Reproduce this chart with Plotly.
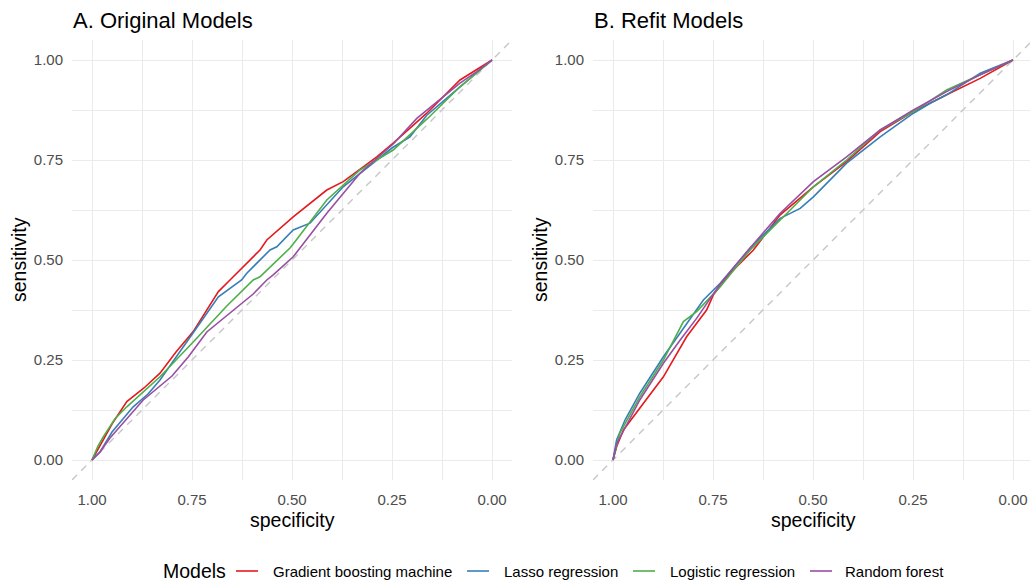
import plotly.graph_objects as go

# ---------------- data ----------------
models = ["Gradient boosting machine", "Lasso regression", "Logistic regression", "Random forest"]
colors = ["#E41A1C", "#377EB8", "#4DAF4A", "#984EA3"]
legend_title = "Models"

# Panel A: Original models
orig_gbm_spec = [1, 0.98, 0.95, 0.913, 0.87, 0.83, 0.79, 0.747, 0.684, 0.655, 0.626, 0.58, 0.563, 0.497, 0.413, 0.372, 0.288, 0.247, 0.163, 0.08, 0.04, 0]
orig_gbm_sens = [0, 0.035, 0.09, 0.146, 0.18, 0.217, 0.27, 0.321, 0.421, 0.45, 0.479, 0.525, 0.55, 0.608, 0.675, 0.696, 0.758, 0.792, 0.867, 0.95, 0.975, 1]

orig_lasso_spec = [1, 0.98, 0.95, 0.897, 0.86, 0.83, 0.747, 0.684, 0.626, 0.613, 0.555, 0.538, 0.497, 0.455, 0.372, 0.288, 0.25, 0.205, 0.163, 0.08, 0]
orig_lasso_sens = [0, 0.02, 0.07, 0.133, 0.165, 0.2, 0.318, 0.408, 0.45, 0.467, 0.525, 0.533, 0.575, 0.592, 0.683, 0.75, 0.78, 0.808, 0.862, 0.933, 1]

orig_logit_spec = [1, 0.985, 0.972, 0.942, 0.913, 0.83, 0.747, 0.663, 0.597, 0.58, 0.505, 0.497, 0.413, 0.33, 0.247, 0.163, 0.08, 0]
orig_logit_sens = [0, 0.035, 0.058, 0.104, 0.133, 0.208, 0.295, 0.385, 0.45, 0.458, 0.53, 0.54, 0.65, 0.725, 0.775, 0.852, 0.933, 1]

orig_rf_spec = [1, 0.98, 0.955, 0.872, 0.8, 0.759, 0.713, 0.663, 0.597, 0.563, 0.547, 0.497, 0.413, 0.33, 0.247, 0.188, 0.08, 0.038, 0]
orig_rf_sens = [0, 0.02, 0.055, 0.15, 0.21, 0.258, 0.32, 0.36, 0.415, 0.45, 0.463, 0.508, 0.617, 0.717, 0.79, 0.854, 0.942, 0.971, 1]

# Panel B: Refit models
refit_gbm_spec = [1, 0.991, 0.974, 0.937, 0.874, 0.816, 0.766, 0.749, 0.707, 0.649, 0.582, 0.499, 0.416, 0.332, 0.249, 0.166, 0.082, 0]
refit_gbm_sens = [0, 0.033, 0.075, 0.125, 0.208, 0.308, 0.375, 0.413, 0.467, 0.525, 0.613, 0.683, 0.746, 0.821, 0.871, 0.913, 0.954, 1]

refit_lasso_spec = [1, 0.991, 0.97, 0.933, 0.874, 0.832, 0.774, 0.732, 0.657, 0.582, 0.532, 0.499, 0.416, 0.332, 0.249, 0.207, 0.166, 0.082, 0]
refit_lasso_sens = [0, 0.05, 0.1, 0.167, 0.258, 0.317, 0.4, 0.442, 0.53, 0.604, 0.629, 0.658, 0.742, 0.808, 0.867, 0.892, 0.913, 0.967, 1]

refit_logit_spec = [1, 0.983, 0.933, 0.874, 0.824, 0.791, 0.732, 0.657, 0.582, 0.499, 0.416, 0.332, 0.249, 0.166, 0.082, 0]
refit_logit_sens = [0, 0.067, 0.158, 0.25, 0.346, 0.371, 0.433, 0.525, 0.6, 0.683, 0.75, 0.825, 0.871, 0.925, 0.963, 1]

refit_rf_spec = [1, 0.991, 0.933, 0.874, 0.832, 0.791, 0.732, 0.666, 0.582, 0.499, 0.416, 0.374, 0.332, 0.249, 0.166, 0.082, 0]
refit_rf_sens = [0, 0.04, 0.15, 0.242, 0.3, 0.354, 0.44, 0.52, 0.617, 0.696, 0.758, 0.792, 0.825, 0.875, 0.921, 0.963, 1]

diag_spec = [1.05, -0.05]
diag_sens = [-0.05, 1.05]

tick_vals = [0, 0.25, 0.5, 0.75, 1]
tick_text = ["0.00", "0.25", "0.50", "0.75", "1.00"]
minor_vals = [0.125, 0.375, 0.625, 0.875]

panel_titles = ["A. Original Models", "B. Refit Models"]

# ---------------- figure ----------------
W, H = 1030, 584
FONT = "Arial, Liberation Sans, sans-serif"

def px_x(p):
    return p / W

def px_y(p):
    return 1 - p / H

fig = go.Figure()

panels = [
    ("x", "y", [(orig_gbm_spec, orig_gbm_sens), (orig_lasso_spec, orig_lasso_sens),
                (orig_logit_spec, orig_logit_sens), (orig_rf_spec, orig_rf_sens)]),
    ("x2", "y2", [(refit_gbm_spec, refit_gbm_sens), (refit_lasso_spec, refit_lasso_sens),
                  (refit_logit_spec, refit_logit_sens), (refit_rf_spec, refit_rf_sens)]),
]

for pi, (xa, ya, series) in enumerate(panels):
    fig.add_trace(go.Scatter(x=diag_spec, y=diag_sens, mode="lines", xaxis=xa, yaxis=ya,
                             line=dict(color="#C6C6C6", width=1.4, dash="7px,6px"),
                             showlegend=False, hoverinfo="skip"))
    for mi, (sx, sy) in enumerate(series):
        fig.add_trace(go.Scatter(x=sx, y=sy, mode="lines", xaxis=xa, yaxis=ya,
                                 name=models[mi], legendgroup=models[mi],
                                 showlegend=False,
                                 line=dict(color=colors[mi], width=1.6)))

axis_common = dict(
    tickmode="array", tickvals=tick_vals, ticktext=tick_text,
    showgrid=True, gridcolor="#EBEBEB", gridwidth=1.1,
    zeroline=False, showline=False, ticks="",
    tickfont=dict(family=FONT, size=15, color="#4D4D4D"),
    minor=dict(tickmode="array", tickvals=minor_vals, showgrid=True,
               gridcolor="#EBEBEB", gridwidth=0.6, ticks=""),
    automargin=False, fixedrange=True,
)

ydom = [px_y(480), px_y(40)]
fig.update_layout(
    width=W, height=H,
    margin=dict(l=0, r=0, t=0, b=0),
    paper_bgcolor="white", plot_bgcolor="white",
    font=dict(family=FONT, color="black"),
    xaxis=dict(domain=[px_x(72), px_x(512)], range=[1.05, -0.05], anchor="y",
               ticklabelstandoff=9, **axis_common),
    yaxis=dict(domain=ydom, range=[-0.05, 1.05], anchor="x",
               ticklabelstandoff=8, **axis_common),
    xaxis2=dict(domain=[px_x(593), 1.0], range=[1.05, -0.0425], anchor="y2",
                ticklabelstandoff=9, **axis_common),
    yaxis2=dict(domain=ydom, range=[-0.05, 1.05], anchor="x2",
                ticklabelstandoff=8, **axis_common),
    showlegend=False,
)

annotations = []
shapes = []
# panel titles
for txt, xl in zip(panel_titles, [71, 592]):
    annotations.append(dict(text=txt, x=px_x(xl), y=px_y(20), xref="paper", yref="paper",
                            xanchor="left", yanchor="middle", showarrow=False,
                            font=dict(family=FONT, size=22, color="black")))
# axis titles
for xc in [292, 813]:
    annotations.append(dict(text="specificity", x=px_x(xc), y=px_y(520), xref="paper", yref="paper",
                            xanchor="center", yanchor="middle", showarrow=False,
                            font=dict(family=FONT, size=19.5, color="black")))
for xc in [19, 540]:
    annotations.append(dict(text="sensitivity", x=px_x(xc), y=px_y(260), xref="paper", yref="paper",
                            xanchor="center", yanchor="middle", showarrow=False, textangle=-90,
                            font=dict(family=FONT, size=19.5, color="black")))

# legend (ggplot-style, bottom)
leg_y = 571
annotations.append(dict(text=legend_title, x=px_x(161), y=px_y(leg_y), xref="paper", yref="paper",
                        xanchor="left", yanchor="middle", showarrow=False,
                        font=dict(family=FONT, size=19.5, color="black")))
key_left = [236, 467, 633, 810]
text_left = [271, 502, 668, 843]
for mi in range(len(models)):
    shapes.append(dict(type="line", xref="paper", yref="paper",
                       x0=px_x(key_left[mi]), x1=px_x(key_left[mi] + 22),
                       y0=px_y(leg_y), y1=px_y(leg_y),
                       line=dict(color=colors[mi], width=1.6)))
    annotations.append(dict(text=models[mi], x=px_x(text_left[mi]), y=px_y(leg_y), xref="paper", yref="paper",
                            xanchor="left", yanchor="middle", showarrow=False,
                            font=dict(family=FONT, size=15, color="black")))

fig.update_layout(annotations=annotations, shapes=shapes)

fig.write_html("out.html")
